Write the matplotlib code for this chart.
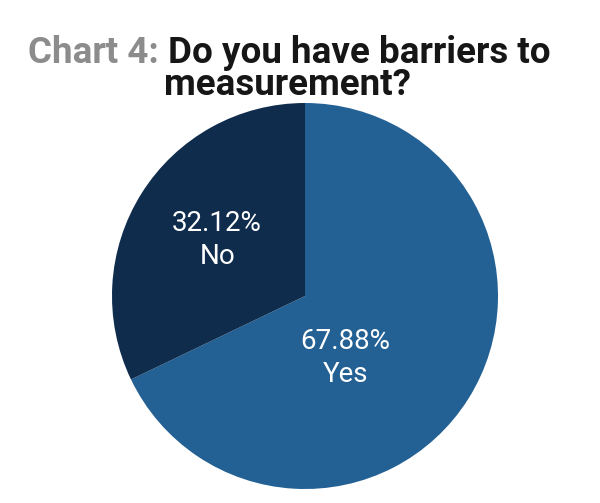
import matplotlib
matplotlib.use('Agg')
import matplotlib.pyplot as plt
from matplotlib import font_manager

# data
labels = ['Yes', 'No']
shares = [67.88, 32.12]
colors = ['#236094', '#0f2c4c']

names = {f.name for f in font_manager.fontManager.ttflist}
fam = 'Liberation Sans Narrow' if 'Liberation Sans Narrow' in names else 'Roboto'

fig = plt.figure(figsize=(6, 5.03), dpi=100)
fig.patch.set_facecolor('white')

# pie axes: centre ~ (305, 296) px, radius ~193 px
ax = fig.add_axes([(305 - 193) / 600, (503 - 489) / 503, 386 / 600, 386 / 503])
wedges, _ = ax.pie(shares, colors=colors, startangle=90, counterclock=False,
                   wedgeprops=dict(linewidth=0))
ax.set_xlim(-1, 1)
ax.set_ylim(-1, 1)
ax.set_aspect('equal')
ax.axis('off')

# label positions inside slices (data coords)
label_pos = {'Yes': (0.21, -0.32), 'No': (-0.455, 0.29)}
for lab, val in zip(labels, shares):
    x, y = label_pos[lab]
    ax.text(x, y, f'{val:.2f}%\n{lab}', ha='center', va='center', color='white',
            fontsize=20, family=fam, linespacing=1.3)

# title: grey prefix + black question
fig.canvas.draw()
r = fig.canvas.get_renderer()
tsize = 26.5
y1 = 1 - 63 / 503
t1 = fig.text(28 / 600, y1, 'Chart 4: ', color='#8c8c8c', fontsize=tsize,
              fontweight='bold', family=fam, va='baseline', ha='left')
bb = t1.get_window_extent(r)
fig.text(bb.x1 / 600, y1, 'Do you have barriers to', color='#161616', fontsize=tsize,
         fontweight='bold', family=fam, va='baseline', ha='left')
fig.text(288 / 600, 1 - 95 / 503, 'measurement?', color='#161616', fontsize=tsize,
         fontweight='bold', family=fam, va='baseline', ha='center')

fig.savefig('out.png', dpi=100, facecolor='white')
